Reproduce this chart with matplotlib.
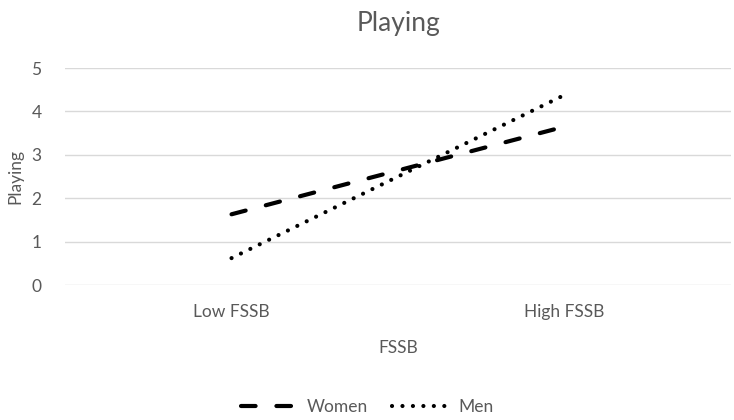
import matplotlib
matplotlib.use("Agg")
import matplotlib.pyplot as plt

categories = ["Low FSSB", "High FSSB"]
women = [1.63, 3.65]
men = [0.62, 4.38]
yticks = [0, 1, 2, 3, 4, 5]

txt = "#595959"
plt.rcParams["font.family"] = ["Lato", "DejaVu Sans"]

fig = plt.figure(figsize=(7.34, 4.2), dpi=100)
ax = fig.add_axes([0.0886, 0.3214, 0.9074, 0.5166])

x = [0.5, 1.5]
ax.plot(x, women, color="black", lw=3.0, dashes=(3.5, 5.0),
        dash_capstyle="round", label="Women")
ax.plot(x, men, color="black", lw=3.0, dashes=(0.01, 2.5),
        dash_capstyle="round", label="Men")

ax.set_xlim(0, 2)
ax.set_ylim(0, 5)
ax.set_yticks(yticks)
ax.set_xticks(x)
ax.set_xticklabels(categories)
ax.grid(axis="y", color="#d9d9d9", lw=1.0)
ax.set_axisbelow(True)
for s in ax.spines.values():
    s.set_visible(False)
ax.tick_params(length=0, colors=txt, labelsize=12.5)
ax.tick_params(axis="y", pad=17)
ax.tick_params(axis="x", pad=14)
ax.set_ylabel("Playing", color=txt, fontsize=12.5, labelpad=6)
ax.set_xlabel("FSSB", color=txt, fontsize=12.5, labelpad=14)
ax.set_title("Playing", color=txt, fontsize=19, pad=27)

leg = fig.legend(loc="center", bbox_to_anchor=(0.5, 0.03), ncol=2,
                 frameon=False, fontsize=12.5, handlelength=3.3,
                 columnspacing=1.4, handletextpad=0.5)
for t in leg.get_texts():
    t.set_color(txt)

fig.savefig("out.png", dpi=100)
